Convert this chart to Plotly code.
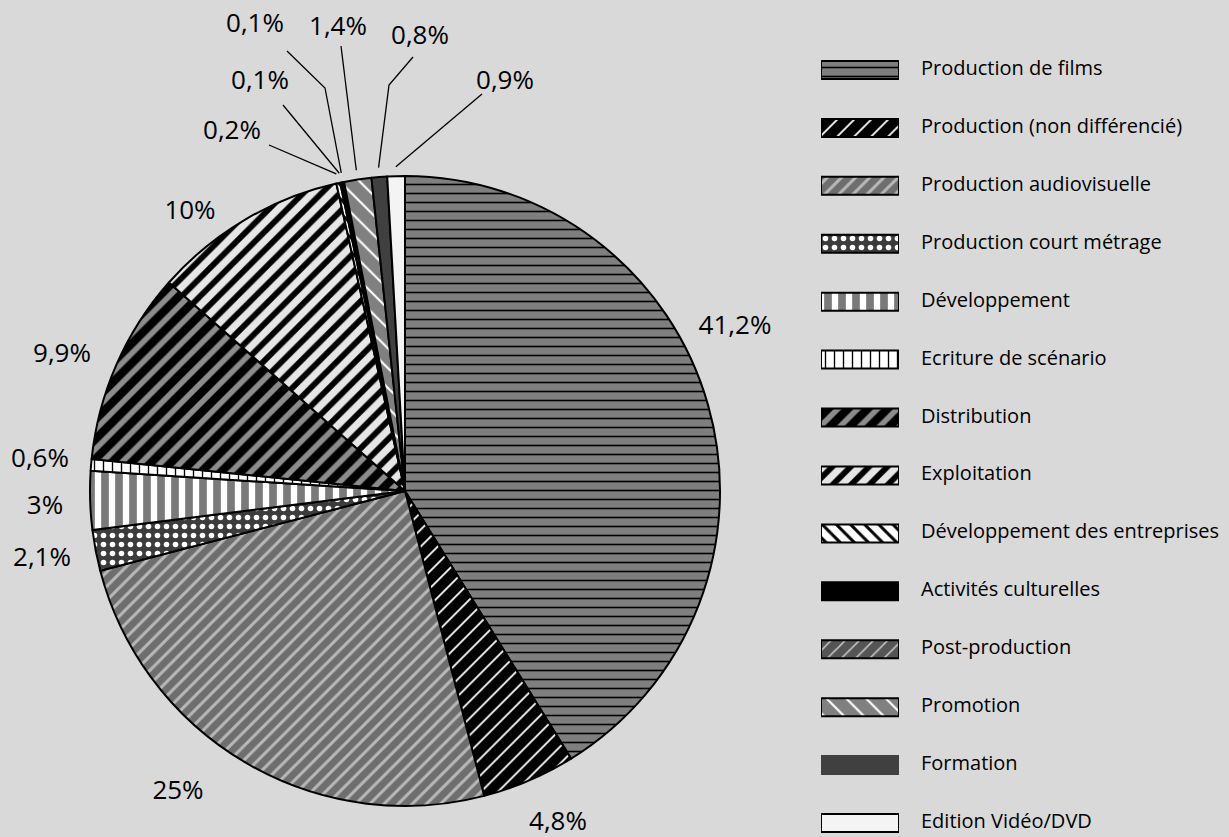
import plotly.graph_objects as go
import math

# ---------------- data ----------------
categories = [
    "Production de films",
    "Production (non différencié)",
    "Production audiovisuelle",
    "Production court métrage",
    "Développement",
    "Ecriture de scénario",
    "Distribution",
    "Exploitation",
    "Développement des entreprises",
    "Activités culturelles",
    "Post-production",
    "Promotion",
    "Formation",
    "Edition Vidéo/DVD",
]
shares = [41.2, 4.8, 25, 2.1, 3, 0.6, 9.9, 10, 0.2, 0.1, 0.1, 1.4, 0.8, 0.9]

# ---------------- styles ----------------
W, H = 1229, 837
BG = "#d9d9d9"
FONT = "Open Sans"

pat_shape = ["-", "/", "/", ".", "|", "|", "/", "/", "\\", "", "/", "\\", "", ""]
pat_bg = ["#7f7f7f", "#000000", "#6e6e6e", "#3c3c3c", "#ffffff", "#ffffff", "#8c8c8c",
          "#e6e6e6", "#ffffff", "#000000", "#555555", "#808080", "#404040", "#f4f4f4"]
pat_fg = ["#000000", "#ffffff", "#b8b8b8", "#ffffff", "#7a7a7a", "#000000", "#000000",
          "#000000", "#000000", "#000000", "#cfcfcf", "#ffffff", "#404040", "#f4f4f4"]
pat_size = [9, 12, 10, 9, 14, 9, 14, 13, 10, 8, 10, 14, 8, 8]
pat_sol = [0.18, 0.15, 0.3, 0.3, 0.55, 0.15, 0.6, 0.45, 0.3, 0.3, 0.15, 0.15, 0.3, 0.3]
swatch_line = ["#000000"] * 12 + ["#404040", "#000000"]

# pie geometry (pixels)
CX, CY, R = 405, 491, 315

# label centres (pixels) and leader-line start points
label_pos = [(735, 327), (558, 823), (178, 792), (42, 559), (45, 507), (40, 460),
             (62, 355), (190, 212), (232, 132), (260, 82), (255, 25), (338, 28),
             (420, 37), (505, 82)]
leader_start = {
    8: [(269, 145)],
    9: [(283, 105)],
    10: [(287, 51), (325, 88)],
    11: [(341, 46)],
    12: [(413, 57), (389, 85)],
    13: [(482, 94)],
}

# legend rows geometry (pixels)
LEG_X0, LEG_X1 = 821, 899
LEG_TXT_X = 921
ROW0, ROWN = 70, 823
SW_H = 18

fig = go.Figure()

fig.add_trace(go.Pie(
    labels=categories, values=shares, sort=False, direction="clockwise",
    rotation=0, textinfo="none", showlegend=False,
    hovertemplate="%{label}: %{value}%<extra></extra>",
    domain=dict(x=[(CX - R) / W, (CX + R) / W],
                y=[(H - CY - R) / H, (H - CY + R) / H]),
    marker=dict(colors=pat_bg, line=dict(color="black", width=2),
                pattern=dict(shape=pat_shape, fgcolor=pat_fg, bgcolor=pat_bg,
                             size=pat_size, solidity=pat_sol, fillmode="replace")),
))

# legend swatches as patterned bars (one trace per category)
n = len(categories)
step = (ROWN - ROW0) / (n - 1)
for i in range(n):
    fig.add_trace(go.Bar(
        x=[1], y=[i], orientation="h", width=SW_H / step,
        marker=dict(color=pat_bg[i], line=dict(color=swatch_line[i], width=2),
                    pattern=dict(shape=pat_shape[i], fgcolor=pat_fg[i], bgcolor=pat_bg[i],
                                 size=pat_size[i], solidity=pat_sol[i], fillmode="replace")),
        xaxis="x", yaxis="y", showlegend=False, hoverinfo="skip",
    ))

# legend texts
fig.add_trace(go.Scatter(
    x=[LEG_TXT_X] * n, y=[ROW0 + i * step for i in range(n)], text=categories,
    mode="text", textposition="middle right",
    textfont=dict(family=FONT, size=20, color="black"),
    xaxis="x2", yaxis="y2", showlegend=False, hoverinfo="skip", cliponaxis=False,
))

# labels + leader lines in pixel overlay axes
total = sum(shares)
cum = 0
mids = []
for v in shares:
    mids.append((cum + v / 2) / total * 2 * math.pi)
    cum += v

lx, ly = [], []
for i, pts in leader_start.items():
    a = mids[i]
    ex = CX + 1.03 * R * math.sin(a)
    ey = CY - 1.03 * R * math.cos(a)
    for (px, py) in pts:
        lx.append(px); ly.append(py)
    lx += [ex, None]; ly += [ey, None]
fig.add_trace(go.Scatter(x=lx, y=ly, mode="lines", line=dict(color="black", width=1.3),
                         xaxis="x2", yaxis="y2", showlegend=False, hoverinfo="skip"))

texts = [("%g" % v).replace(".", ",") + "%" for v in shares]
fig.add_trace(go.Scatter(
    x=[p[0] for p in label_pos], y=[p[1] for p in label_pos], text=texts,
    mode="text", textposition="middle center",
    textfont=dict(family=FONT, size=26, color="black"),
    xaxis="x2", yaxis="y2", showlegend=False, hoverinfo="skip", cliponaxis=False,
))

fig.update_layout(
    width=W, height=H,
    margin=dict(l=0, r=0, t=0, b=0),
    paper_bgcolor=BG, plot_bgcolor="rgba(0,0,0,0)",
    font=dict(family=FONT, color="black"),
    barmode="overlay",
    xaxis=dict(domain=[LEG_X0 / W, LEG_X1 / W], range=[0, 1], visible=False, fixedrange=True),
    yaxis=dict(domain=[0, 1], anchor="x",
               range=[(n - 1) + (H - ROWN) / step, -ROW0 / step],
               visible=False, fixedrange=True),
    xaxis2=dict(domain=[0, 1], range=[0, W], visible=False, anchor="y2", fixedrange=True),
    yaxis2=dict(domain=[0, 1], range=[H, 0], visible=False, anchor="x2", fixedrange=True),
)

fig.write_html("out.html", config={"displayModeBar": False},
               post_script="document.body.style.margin='0';")
